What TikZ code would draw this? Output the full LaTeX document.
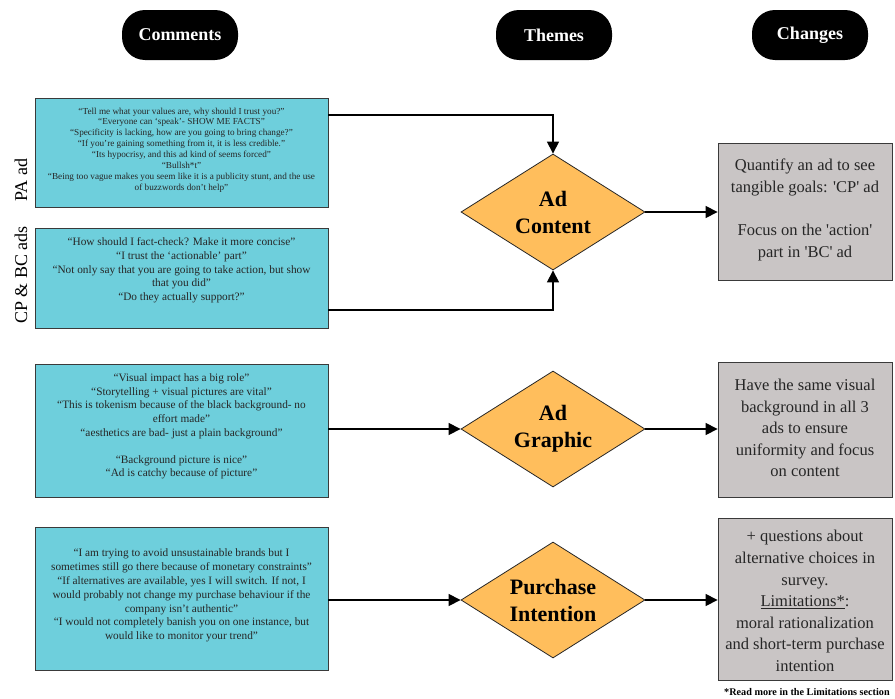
\documentclass[tikz,border=0pt]{standalone}
\usepackage{fontspec}
\setmainfont{Liberation Serif}
\usetikzlibrary{shapes.geometric,arrows.meta}

\definecolor{tealfill}{HTML}{6ECFDC}
\definecolor{grayfill}{HTML}{C9C5C5}
\definecolor{themefill}{HTML}{FFBE5C}
\definecolor{edgegray}{HTML}{3A3A3A}

\newcommand{\sq}{\textquotesingle}

\tikzset{
  header/.style={fill=black, rounded corners=23pt, minimum width=116pt, minimum height=50pt,
    text=white, font=\fontsize{18}{20}\selectfont\bfseries, inner sep=0pt},
  quotebox/.style={draw=edgegray, line width=0.8pt, fill=tealfill, inner sep=0pt},
  quotetext/.style={align=center, text=black!85, inner sep=0pt},
  changebox/.style={draw=edgegray, line width=0.8pt, fill=grayfill, inner sep=0pt},
  changetext/.style={align=center, text=black!85, inner sep=0pt,
    font=\fontsize{16.5}{21.6}\selectfont},
  theme/.style={diamond, draw=black!85, line width=0.8pt, fill=themefill, inner sep=0pt,
    minimum width=184pt, minimum height=116pt, aspect=1.6, align=center,
    font=\fontsize{22}{27}\selectfont\bfseries},
  sidelabel/.style={rotate=90, font=\fontsize{18}{20}\selectfont, inner sep=0pt},
  link/.style={line width=1.2pt, -{Triangle[length=12pt,width=12pt]}}
}

\begin{document}
\begin{tikzpicture}[x=1pt,y=-1pt]
\useasboundingbox (0,0) rectangle (895,699);

% column headers
\node[header] (hcom) at (180,35) {Comments};
\node[header] (hthe) at (554,35) {Themes};
\node[header] (hcha) at (810,35) {Changes};

% comment boxes
\node[quotebox, minimum width=293pt, minimum height=109pt] (pa) at (181.5,152.5) {};
\node[quotetext, font=\fontsize{9.2}{10.9}\selectfont] (patext) at (181.5,150) {%
``Tell me what your values are, why should I trust you?''\\
``Everyone can `speak'- SHOW ME FACTS''\\
``Specificity is lacking, how are you going to bring change?''\\
``If you're gaining something from it, it is less credible.''\\
``Its hypocrisy, and this ad kind of seems forced''\\
``Bullsh*t''\\
``Being too vague makes you seem like it is a publicity stunt, and the use\\
of buzzwords don't help''};

\node[quotebox, minimum width=293pt, minimum height=100pt] (cpbc) at (181.5,278) {};
\node[quotetext, font=\fontsize{11.3}{13.7}\selectfont] (cpbctext) at (181.5,270.5) {%
``How should I fact-check? Make it more concise''\\
``I trust the `actionable' part''\\
``Not only say that you are going to take action, but show\\
that you did''\\
``Do they actually support?''};

\node[quotebox, minimum width=293pt, minimum height=133pt] (vis) at (181.5,430.5) {};
\node[quotetext, font=\fontsize{11.3}{13.6}\selectfont] (vistext) at (181.5,426.5) {%
``Visual impact has a big role''\\
``Storytelling + visual pictures are vital''\\
``This is tokenism because of the black background- no\\
effort made''\\
``aesthetics are bad- just a plain background''\\[13.6pt]
``Background picture is nice''\\
``Ad is catchy because of picture''};

\node[quotebox, minimum width=293pt, minimum height=143pt] (pur) at (181.5,598.5) {};
\node[quotetext, font=\fontsize{11.3}{13.8}\selectfont] (purtext) at (181.5,595.5) {%
``I am trying to avoid unsustainable brands but I\\
sometimes still go there because of monetary constraints''\\
``If alternatives are available, yes I will switch. If not, I\\
would probably not change my purchase behaviour if the\\
company isn't authentic''\\
``I would not completely banish you on one instance, but\\
would like to monitor your trend''};

% side labels
\node[sidelabel] (lpa) at (21,180) {PA ad};
\node[sidelabel] (lcpbc) at (21,275) {CP \& BC ads};

% themes
\node[theme] (content) at (553,212) {Ad\\Content};
\node[theme] (graphic) at (553,429) {Ad\\Graphic};
\node[theme] (intent) at (553,600) {Purchase\\Intention};

% change boxes
\node[changebox, minimum width=174pt, minimum height=137pt] (chA) at (805,211.5) {};
\node[changetext] (chAtext) at (805,210) {%
Quantify an ad to see\\
tangible goals: \sq CP\sq{} ad\\[21.6pt]
Focus on the \sq action\sq\\
part in \sq BC\sq{} ad};

\node[changebox, minimum width=174pt, minimum height=135pt] (chB) at (805,429.5) {};
\node[changetext] (chBtext) at (805,428) {%
Have the same visual\\
background in all 3\\
ads to ensure\\
uniformity and focus\\
on content};

\node[changebox, minimum width=174pt, minimum height=162pt] (chC) at (805,599) {};
\node[changetext] (chCtext) at (805,601) {%
+ questions about\\
alternative choices in\\
survey.\\
\underline{Limitations*}:\\
moral rationalization\\
and short-term purchase\\
intention};

\node[anchor=west, inner sep=0pt, font=\fontsize{10.2}{12}\selectfont\bfseries] (note)
  at (724,692) {*Read more in the Limitations section};

% connectors
\draw[link] (pa.east |- 0,115) -| (content.north);
\draw[link] (cpbc.east |- 0,310) -| (content.south);
\draw[link] (vis.east |- graphic.west) -- (graphic.west);
\draw[link] (pur.east |- intent.west) -- (intent.west);
\draw[link] (content.east) -- (chA.west |- content.east);
\draw[link] (graphic.east) -- (chB.west |- graphic.east);
\draw[link] (intent.east) -- (chC.west |- intent.east);
\end{tikzpicture}
\end{document}
